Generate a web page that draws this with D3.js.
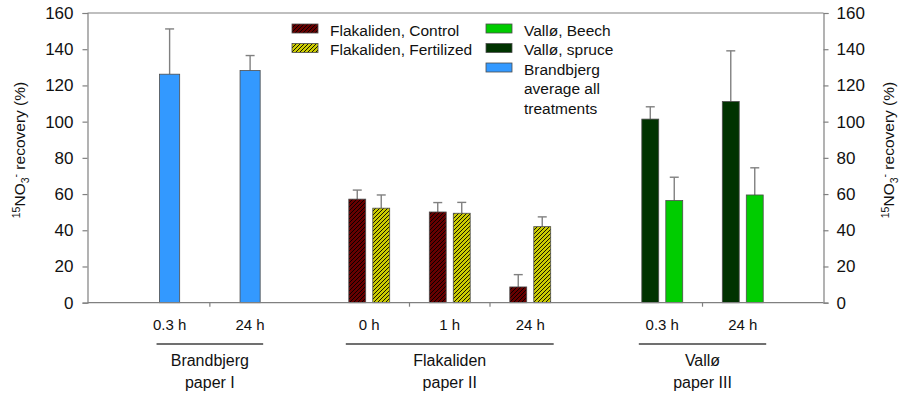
<!DOCTYPE html>
<html><head><meta charset="utf-8">
<script src="https://cdn.jsdelivr.net/npm/d3@7"></script>
<style>body{margin:0;background:#fff} svg{display:block} text{font-family:"Liberation Sans",Arial,sans-serif;fill:#111}</style>
</head><body><svg id="c" width="908" height="398"></svg>
<script>
// ---------- data ----------
const yTicks = [0, 20, 40, 60, 80, 100, 120, 140, 160];
const studies = ["Brandbjerg", "Flakaliden", "Vallø"];
const studyPapers = ["paper I", "paper II", "paper III"];
const brandTimes = ["0.3 h", "24 h"];
const brandMean = [126.2, 128.2];
const brandErr = [25, 8.3];
const flakTimes = ["0 h", "1 h", "24 h"];
const flakControl = [57.2, 50.1, 8.7];
const flakControlErr = [5, 5.2, 6.8];
const flakFert = [52.2, 49.4, 42];
const flakFertErr = [7.3, 6, 5.4];
const valloTimes = ["0.3 h", "24 h"];
const valloSpruce = [101.4, 111.1];
const valloSpruceErr = [6.8, 28];
const valloBeech = [56.4, 59.5];
const valloBeechErr = [12.9, 15];
const legendLeft = ["Flakaliden, Control", "Flakaliden, Fertilized"];
const legendRight = ["Vallø, Beech", "Vallø, spruce", "Brandbjerg average all treatments"];

// ---------- layout ----------
const svg = d3.select("#c");
const L = 87.5, R = 823.5, T = 13, B = 302.7;
const x = d3.scaleLinear().domain([0, 9.143]).range([L, R]);
const y = d3.scaleLinear().domain([0, 160]).range([B, T]);
const groupStart = [1.02, 3.5, 7.14];
const pairOff = 0.149, pairW = 0.21, singleW = 0.25;
const col = {brand: "#3399ff", control: "#660000", fert: "#cccc00", beech: "#00cc00", spruce: "#003300"};
const axisCol = "#808080";

const defs = svg.append("defs");
function hatch(id, bg) {
  const p = defs.append("pattern").attr("id", id).attr("patternUnits", "userSpaceOnUse")
    .attr("width", 4).attr("height", 4);
  p.append("rect").attr("width", 4).attr("height", 4).attr("fill", bg);
  p.append("path").attr("d", "M-1,1 l2,-2 M0,4 l4,-4 M3,5 l2,-2")
    .attr("stroke", "#000").attr("stroke-width", 0.9);
}
hatch("hControl", col.control);
hatch("hFert", col.fert);
const fill = {brand: col.brand, control: "url(#hControl)", fert: "url(#hFert)", beech: col.beech, spruce: col.spruce};

// build bar records
const bars = [];
const times = [brandTimes, flakTimes, valloTimes];
brandTimes.forEach((t, i) => bars.push({g: 0, i, v: brandMean[i], e: brandErr[i], k: "brand", off: 0, w: singleW}));
flakTimes.forEach((t, i) => {
  bars.push({g: 1, i, v: flakControl[i], e: flakControlErr[i], k: "control", off: -pairOff, w: pairW});
  bars.push({g: 1, i, v: flakFert[i], e: flakFertErr[i], k: "fert", off: pairOff, w: pairW});
});
valloTimes.forEach((t, i) => {
  bars.push({g: 2, i, v: valloSpruce[i], e: valloSpruceErr[i], k: "spruce", off: -pairOff, w: pairW});
  bars.push({g: 2, i, v: valloBeech[i], e: valloBeechErr[i], k: "beech", off: pairOff, w: pairW});
});
const cx = d => groupStart[d.g] + d.i + d.off;

// error bars (upper)
const eb = svg.append("g").attr("stroke", axisCol).attr("stroke-width", 1.4);
bars.forEach(d => {
  const xc = x(cx(d));
  eb.append("line").attr("x1", xc).attr("x2", xc).attr("y1", y(d.v)).attr("y2", y(d.v + d.e));
  eb.append("line").attr("x1", xc - 4.5).attr("x2", xc + 4.5).attr("y1", y(d.v + d.e)).attr("y2", y(d.v + d.e));
});

// bars
svg.append("g").selectAll("rect").data(bars).join("rect")
  .attr("x", d => x(cx(d) - d.w / 2))
  .attr("width", d => x(d.w) - x(0))
  .attr("y", d => y(d.v))
  .attr("height", d => y(0) - y(d.v))
  .attr("fill", d => fill[d.k])
  .attr("stroke", "#4d4d4d").attr("stroke-width", 0.8);

// axes
const ga = svg.append("g").attr("transform", `translate(${L},0)`)
  .call(d3.axisLeft(y).tickValues(yTicks).tickSize(5).tickPadding(9).tickFormat(d3.format("d")));
const gr = svg.append("g").attr("transform", `translate(${R},0)`)
  .call(d3.axisRight(y).tickValues(yTicks).tickSize(5).tickPadding(8).tickFormat(d3.format("d")));
[ga, gr].forEach(g => {
  g.select(".domain").attr("stroke", axisCol).attr("stroke-width", 1.2);
  g.selectAll(".tick line").attr("stroke", axisCol).attr("stroke-width", 1.2);
  g.selectAll(".tick text").attr("font-size", 17).attr("fill", "#111")
    .attr("font-family", '"Liberation Sans",Arial,sans-serif');
});
// top and bottom frame
svg.append("line").attr("x1", L).attr("x2", R).attr("y1", T).attr("y2", T).attr("stroke", axisCol).attr("stroke-width", 1.2);
svg.append("line").attr("x1", L).attr("x2", R).attr("y1", B).attr("y2", B).attr("stroke", axisCol).attr("stroke-width", 1.2);

// bottom ticks between time points within studies
const bt = svg.append("g");
times.forEach((ts, g) => {
  for (let i = 0; i < ts.length - 1; i++) {
    const xt = x(groupStart[g] + i + 0.5);
    bt.append("line").attr("x1", xt).attr("x2", xt).attr("y1", B).attr("y2", B + 4).attr("stroke", axisCol).attr("stroke-width", 1.2);
  }
});

// time labels
times.forEach((ts, g) => {
  ts.forEach((t, i) => {
    svg.append("text").attr("x", x(groupStart[g] + i)).attr("y", 330)
      .attr("text-anchor", "middle").attr("font-size", 15).text(t);
  });
});

// study brackets and names
times.forEach((ts, g) => {
  const first = bars.filter(d => d.g === g && d.i === 0)[0];
  const lastAll = bars.filter(d => d.g === g && d.i === ts.length - 1);
  const last = lastAll[lastAll.length - 1];
  const x1 = x(cx(first) - first.w / 2) - 3;
  const x2 = x(cx(last) + last.w / 2) + 3;
  svg.append("line").attr("x1", x1).attr("x2", x2).attr("y1", 344).attr("y2", 344)
    .attr("stroke", "#404040").attr("stroke-width", 1.5);
  const mx = (x1 + x2) / 2;
  svg.append("text").attr("x", mx).attr("y", 366).attr("text-anchor", "middle").attr("font-size", 16).text(studies[g]);
  svg.append("text").attr("x", mx).attr("y", 388).attr("text-anchor", "middle").attr("font-size", 16).text(studyPapers[g]);
});

// axis titles
function yTitle(xp) {
  const t = svg.append("text").attr("transform", `translate(${xp},150) rotate(-90)`)
    .attr("text-anchor", "middle").attr("font-size", 15.5);
  t.append("tspan").attr("font-size", 10.5).attr("dy", -5).text("15");
  t.append("tspan").attr("dy", 5).text("NO");
  t.append("tspan").attr("font-size", 10.5).attr("dy", 4).text("3");
  t.append("tspan").attr("font-size", 10.5).attr("dy", -10).text("-");
  t.append("tspan").attr("dy", 6).text(" recovery (%)");
}
yTitle(25);
yTitle(894);

// legend
const lg = svg.append("g");
const legL = ["control", "fert"];
legendLeft.forEach((s, i) => {
  const yy = 24 + i * 19.5;
  lg.append("rect").attr("x", 292).attr("y", yy).attr("width", 26).attr("height", 9)
    .attr("fill", fill[legL[i]]).attr("stroke", "#4d4d4d").attr("stroke-width", 0.8);
  lg.append("text").attr("x", 330).attr("y", yy + 11.5).attr("font-size", 15.5).text(s);
});
const legR = ["beech", "spruce", "brand"];
legendRight.forEach((s, i) => {
  const yy = 24 + i * 19.5;
  lg.append("rect").attr("x", 486).attr("y", yy).attr("width", 26).attr("height", 9)
    .attr("fill", fill[legR[i]]).attr("stroke", "#4d4d4d").attr("stroke-width", 0.8);
  if (i < 2) {
    lg.append("text").attr("x", 524).attr("y", yy + 11.5).attr("font-size", 15.5).text(s);
  } else {
    const parts = ["Brandbjerg", "average all", "treatments"];
    const t = lg.append("text").attr("x", 524).attr("y", yy + 11.5).attr("font-size", 15.5);
    parts.forEach((p, j) => t.append("tspan").attr("x", 524).attr("dy", j === 0 ? 0 : 19.5).text(p));
  }
});
</script>
</body></html>
